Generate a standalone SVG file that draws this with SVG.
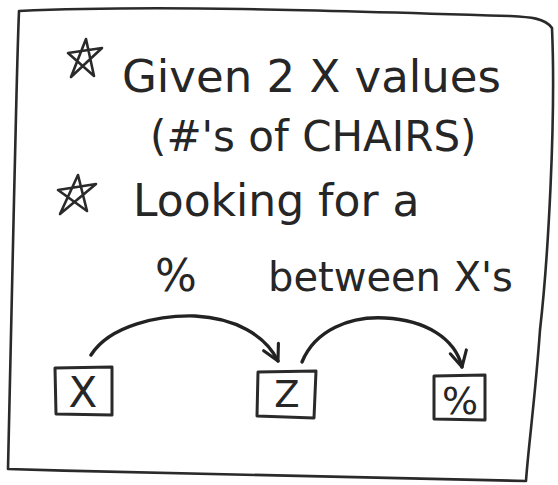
<svg xmlns="http://www.w3.org/2000/svg" width="558" height="485" viewBox="0 0 558 485">
<style>
  .ink{fill:none;stroke:#2a2a2a;stroke-width:2.6;stroke-linecap:round;stroke-linejoin:round}
  .hand{font-family:"DejaVu Sans","Liberation Sans",sans-serif;fill:#262626;font-weight:normal}
  .box{fill:none;stroke:#2a2a2a;stroke-width:3;stroke-linejoin:round}
  .arrow{fill:none;stroke:#222;stroke-width:3.4;stroke-linecap:round}
</style>
<defs>
  <marker id="vh2" viewBox="0 0 24 24" refX="20" refY="12" markerWidth="22" markerHeight="22" markerUnits="userSpaceOnUse" orient="auto">
    <path d="M3,3 L20,12 L3,21" fill="none" stroke="#222" stroke-width="3.4" stroke-linecap="round" stroke-linejoin="round"/>
  </marker>
</defs>
<rect width="558" height="485" fill="#ffffff"/>
<g id="frame">
  <path class="ink" d="M19,11 C150,5 320,10 510,16 C530,17 545,18 552,28 C556,120 548,260 540,330 C535,400 528,450 526,481 C400,478 200,475 8,469 C9,400 12,300 14,200 C16,120 17,60 19,11 Z" stroke-width="2"/>
</g>
<g id="text">
  <path class="ink" d="M68,53 L102,48 L71,77 L86,39 L94,76 Z" stroke-width="2.6"/>
  <text class="hand" x="122" y="92" font-size="45">Given 2 X values</text>
  <text class="hand" x="150" y="151" font-size="42">(#'s of CHAIRS)</text>
  <path class="ink" d="M58,190 L96,184 L60,214 L78,175 L87,211 Z" stroke-width="2.6"/>
  <text class="hand" x="133" y="216" font-size="44">Looking for a</text>
  <text class="hand" x="155" y="291" font-size="44">%</text>
  <text class="hand" x="268" y="291" font-size="40">between X's</text>
</g>
<g id="node-x">
  <path class="box" d="M55,368 L112,367 L112,415 L56,414 Z"/>
  <text class="hand" x="83" y="407" font-size="42" text-anchor="middle">X</text>
</g>
<g id="node-z">
  <path class="box" d="M258,372 L316,371 L314,418 L257,416 Z"/>
  <text class="hand" x="287" y="407" font-size="37" text-anchor="middle">Z</text>
</g>
<g id="node-pct">
  <path class="box" d="M434,376 L485,375 L485,420 L434,419 Z"/>
  <text class="hand" x="460" y="414" font-size="38" text-anchor="middle">%</text>
</g>
<g id="connectors">
  <path class="arrow" d="M91,355 C110,325 160,315 195,316 C235,318 265,335 278,361" marker-end="url(#vh2)"/>
  <path class="arrow" d="M302,362 C315,330 350,316 385,318 C425,320 455,338 462,367" marker-end="url(#vh2)"/>
</g>
</svg>
